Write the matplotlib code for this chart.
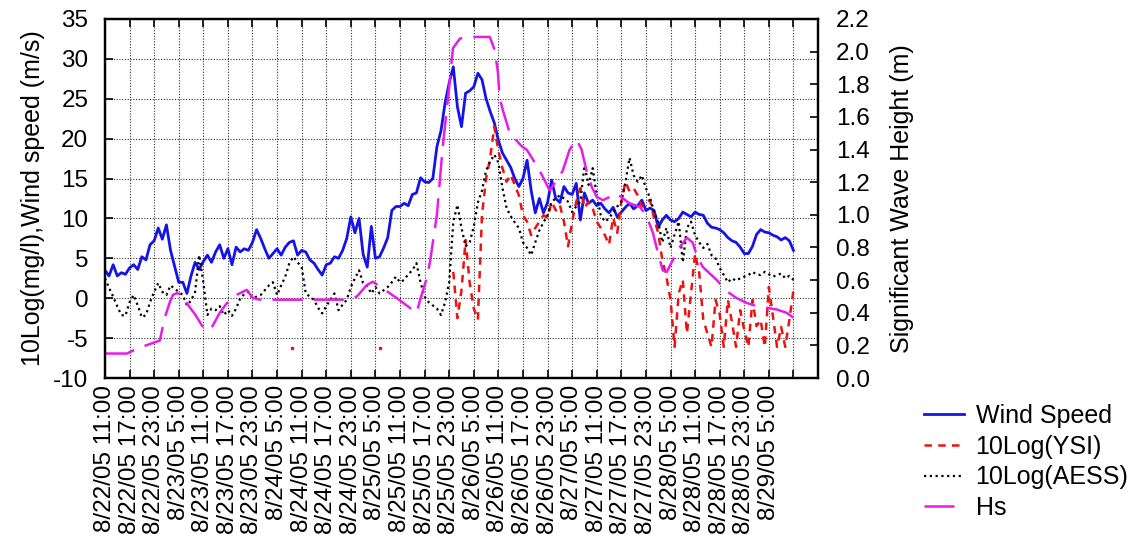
import numpy as np
import matplotlib
matplotlib.use("Agg")
import matplotlib.pyplot as plt

# FONT
plt.rcParams["font.family"] = ["Liberation Sans", "DejaVu Sans"]
plt.rcParams["axes.unicode_minus"] = False

# DATA  (time in hours after 8/22/05 11:00, one reading per hour)
hours = np.arange(0, 169)

wind_speed = [
    3.5, 2.8, 4.2, 2.8, 3.2, 3.0, 3.8, 4.2, 3.6, 5.2, 4.8, 6.7, 7.2, 8.8, 7.4, 9.2, 6.0, 4.0, 2.0, 2.0,
    0.6, 2.8, 4.5, 3.6, 4.6, 5.4, 4.5, 5.8, 6.7, 5.0, 6.2, 4.2, 6.4, 5.8, 6.2, 6.0, 7.0, 8.6, 7.5, 6.2,
    5.0, 5.6, 6.2, 5.4, 6.4, 7.0, 7.2, 5.4, 6.0, 5.8, 4.8, 4.4, 3.6, 2.9, 4.2, 4.4, 5.2, 5.0, 6.0, 7.5,
    10.2, 8.2, 10.0, 5.5, 3.9, 9.0, 5.0, 5.2, 6.3, 7.6, 11.0, 11.5, 11.5, 11.9, 11.6, 13.0, 13.2, 15.1, 14.6, 14.5,
    15.0, 19.0, 21.0, 24.5, 27.0, 29.0, 24.0, 21.5, 25.7, 26.0, 26.5, 28.2, 27.4, 25.0, 23.4, 22.0, 19.8, 18.2, 17.3, 16.4,
    15.0, 14.0, 15.0, 17.3, 13.5, 10.7, 12.5, 10.7, 12.0, 14.8, 12.5, 12.0, 14.0, 13.2, 13.0, 14.4, 9.8, 13.2, 11.9, 12.3,
    11.6, 11.9, 11.2, 10.7, 11.4, 10.2, 10.8, 11.4, 11.9, 11.2, 11.6, 12.3, 11.0, 11.3, 11.0, 8.9, 9.8, 10.4, 9.8, 9.6,
    10.0, 10.8, 10.5, 10.2, 10.8, 10.5, 10.4, 9.4, 8.9, 8.8, 8.6, 8.2, 7.6, 7.2, 7.0, 6.4, 5.6, 5.6, 6.5, 8.0,
    8.6, 8.3, 8.2, 7.9, 7.7, 7.3, 7.6, 7.2, 6.0,
]

aess = [
    2.5, 1.3, 0.2, -1.0, -2.1, -2.2, -0.5, 0.4, -0.9, -2.4, -2.1, -0.5, 0.8, 1.9, 0.8, 0.4, 1.6, 1.2, 0.8, 0.4,
    -0.9, -0.3, 0.8, 5.4, 2.0, -2.1, -1.3, -1.5, -1.0, -2.1, -1.5, -2.2, -1.3, 0.0, 0.5, 0.8, 0.0, 0.2, 0.4, 1.0,
    1.6, 2.0, 0.4, 1.6, 2.7, 4.4, 5.2, 4.5, 3.9, 0.6, 0.2, -0.2, -1.2, -1.9, -1.0, -0.2, 0.6, -1.5, -0.8, -0.2,
    1.4, 2.5, 3.5, 1.9, 1.5, 0.6, 1.4, 0.6, 1.0, 1.4, 2.0, 2.7, 2.0, 2.3, 3.0, 3.5, 4.4, 2.0, 0.2, -0.5,
    -0.9, -1.3, -2.1, -0.5, 2.0, 9.6, 11.7, 8.8, 6.5, 7.0, 9.0, 12.0, 13.5, 16.0, 17.1, 18.0, 17.0, 13.8, 11.3, 10.3,
    9.5, 8.8, 7.0, 6.3, 5.4, 7.0, 8.5, 9.5, 10.4, 12.1, 12.5, 12.9, 12.5, 12.1, 10.8, 11.5, 12.1, 16.6, 14.2, 16.3,
    12.9, 10.4, 9.6, 10.0, 10.8, 11.5, 12.1, 14.5, 17.6, 15.4, 14.6, 15.4, 13.8, 12.6, 10.8, 9.6, 7.0, 8.8, 6.3, 8.0,
    9.6, 4.5, 8.8, 9.6, 7.9, 7.0, 6.3, 6.8, 5.4, 5.0, 3.8, 2.9, 2.0, 2.5, 2.2, 2.5, 2.7, 2.9, 3.3, 3.0,
    2.9, 3.3, 3.0, 2.7, 2.9, 3.1, 2.5, 2.8, 2.3,
]

# YSI record starts at hour 85
ysi_hours = np.arange(85, 169)
ysi = [
    3.3, -2.5, 1.0, 7.3, 1.9, -1.3, -2.7, 10.4, 15.0, 17.6, 21.5, 18.5, 16.3, 14.6, 15.5, 14.2, 12.9, 10.4, 9.6, 7.9,
    8.8, 9.6, 10.4, 10.1, 12.1, 11.0, 11.7, 9.6, 6.5, 9.6, 12.1, 13.8, 11.3, 12.1, 11.3, 9.6, 8.8, 7.9, 6.7, 10.1,
    8.2, 12.1, 14.6, 13.4, 13.8, 12.9, 11.5, 12.1, 12.3, 10.0, 8.2, 4.8, 2.7, -0.2, -6.1, 0.6, 2.3, -4.4, 0.6, 5.6,
    3.2, -2.7, -4.4, -6.1, -0.2, -2.0, -6.1, -0.2, -3.0, -6.1, -1.5, -4.0, -6.1, -0.2, -3.5, -2.7, -6.1, 1.4, -2.3, -6.1,
    -3.6, -6.1, -2.7, 1.0,
]
ysi_single_hours = [45.6, 67.1]
ysi_single = [-6.3, -6.3]

hs_hours = [
    0, 5.4, 7.8, 13.4, 13.9, 14.6, 15.9, 16.6, 17.6, 19.0, 20.2, 22.0, 23.7, 25.1, 26.3, 28.0, 29.8, 32.2, 34.6, 36.1,
    37.8, 56.6, 59.3, 61.5, 63.9, 65.4, 68.3, 71.2, 74.4, 76.1, 76.8, 78.5, 79.3, 81.0, 82.4, 84.1, 84.9, 86.6, 89.0, 93.9,
    95.1, 95.9, 96.3, 97.1, 98.8, 101.7, 102.9, 104.4, 106.1, 108.5, 110.2, 111.7, 113.4, 115.1, 116.3, 117.6, 118.8, 120.0, 121.5, 123.2,
    124.9, 128.0, 130.5, 132.2, 133.7, 134.9, 136.1, 137.1, 138.5, 140.2, 142.0, 143.4, 144.6, 145.9, 147.6, 149.3, 150.7, 152.4, 154.1, 156.6,
    159.0, 161.5, 163.9, 166.3, 168.0,
]
hs = [
    0.15, 0.15, 0.18, 0.23, 0.29, 0.37, 0.47, 0.51, 0.52, 0.51, 0.45, 0.39, 0.32, 0.29, 0.32, 0.40, 0.46, 0.51, 0.54, 0.49,
    0.48, 0.48, 0.48, 0.50, 0.57, 0.59, 0.54, 0.49, 0.43, 0.40, 0.47, 0.61, 0.71, 1.00, 1.41, 1.81, 2.02, 2.08, 2.09, 2.09,
    2.01, 1.87, 1.72, 1.64, 1.50, 1.42, 1.40, 1.34, 1.27, 1.15, 1.21, 1.27, 1.40, 1.46, 1.40, 1.26, 1.17, 1.11, 1.09, 1.11,
    1.13, 1.07, 1.05, 0.99, 0.89, 0.77, 0.66, 0.65, 0.72, 0.80, 0.86, 0.83, 0.74, 0.68, 0.64, 0.60, 0.56, 0.52, 0.49, 0.46,
    0.44, 0.43, 0.42, 0.40, 0.37,
]

tick_hours = np.arange(0, 169, 6)
tick_labels = [
    "8/22/05 11:00", "8/22/05 17:00", "8/22/05 23:00", "8/23/05 5:00", "8/23/05 11:00", "8/23/05 17:00", "8/23/05 23:00",
    "8/24/05 5:00", "8/24/05 11:00", "8/24/05 17:00", "8/24/05 23:00", "8/25/05 5:00", "8/25/05 11:00", "8/25/05 17:00",
    "8/25/05 23:00", "8/26/05 5:00", "8/26/05 11:00", "8/26/05 17:00", "8/26/05 23:00", "8/27/05 5:00", "8/27/05 11:00",
    "8/27/05 17:00", "8/27/05 23:00", "8/28/05 5:00", "8/28/05 11:00", "8/28/05 17:00", "8/28/05 23:00", "8/29/05 5:00", "",
]

# GRAPH
fig = plt.figure(figsize=(11.47, 5.52), dpi=100)
ax = fig.add_axes([0.0915, 0.3152, 0.6217, 0.6504])
ax2 = ax.twinx()

ax.set_xlim(0, 174)
ax.set_ylim(-10, 35)
ax2.set_ylim(0, 2.2)

ax.set_xticks(tick_hours)
ax.set_xticklabels(tick_labels, rotation=90, fontsize=17.5)
ax.set_yticks(np.arange(-10, 36, 5))
ax.tick_params(axis="both", direction="in", length=6, width=1.2, top=True, labelsize=17.5)
ax.tick_params(axis="x", pad=5)
ax.tick_params(axis="y", pad=12)
ax2.set_yticks(np.arange(0, 2.21, 0.2))
ax2.set_yticklabels([f"{v:.1f}" for v in np.arange(0, 2.21, 0.2)])
ax2.tick_params(axis="y", direction="in", length=6, width=1.2, labelsize=17.5, pad=13)

for a in (ax, ax2):
    for s in a.spines.values():
        s.set_linewidth(1.6)

ax.grid(True, color="#333333", linestyle=(0, (1, 1.5)), linewidth=0.8)
ax.set_axisbelow(True)

# Series
l_wind, = ax.plot(hours, wind_speed, color="#1414e6", lw=2.0, label="Wind Speed")
l_ysi, = ax.plot(ysi_hours, ysi, color="#ee1111", lw=1.8, dashes=(3, 2.5), label="10Log(YSI)")
ax.plot(ysi_single_hours, ysi_single, "s", color="#ee1111", ms=1.5)
l_aess, = ax.plot(hours, aess, color="black", lw=1.6, linestyle=(0, (1, 1.6)), label="10Log(AESS)")
l_hs, = ax2.plot(hs_hours, hs, color="#e81ce8", lw=1.8, dashes=(12, 4.5), label="Hs")

ax.set_ylabel("10Log(mg/l),Wind speed (m/s)", fontsize=18, labelpad=6)
ax2.set_ylabel("Significant Wave Height (m)", fontsize=18, labelpad=14)

fig.legend(handles=[l_wind, l_ysi, l_aess, l_hs], loc="center left", bbox_to_anchor=(0.795, 0.163),
           frameon=False, fontsize=18, handlelength=1.6, handletextpad=0.45, labelspacing=0.27, borderpad=0)

fig.savefig("out.png", dpi=100)
